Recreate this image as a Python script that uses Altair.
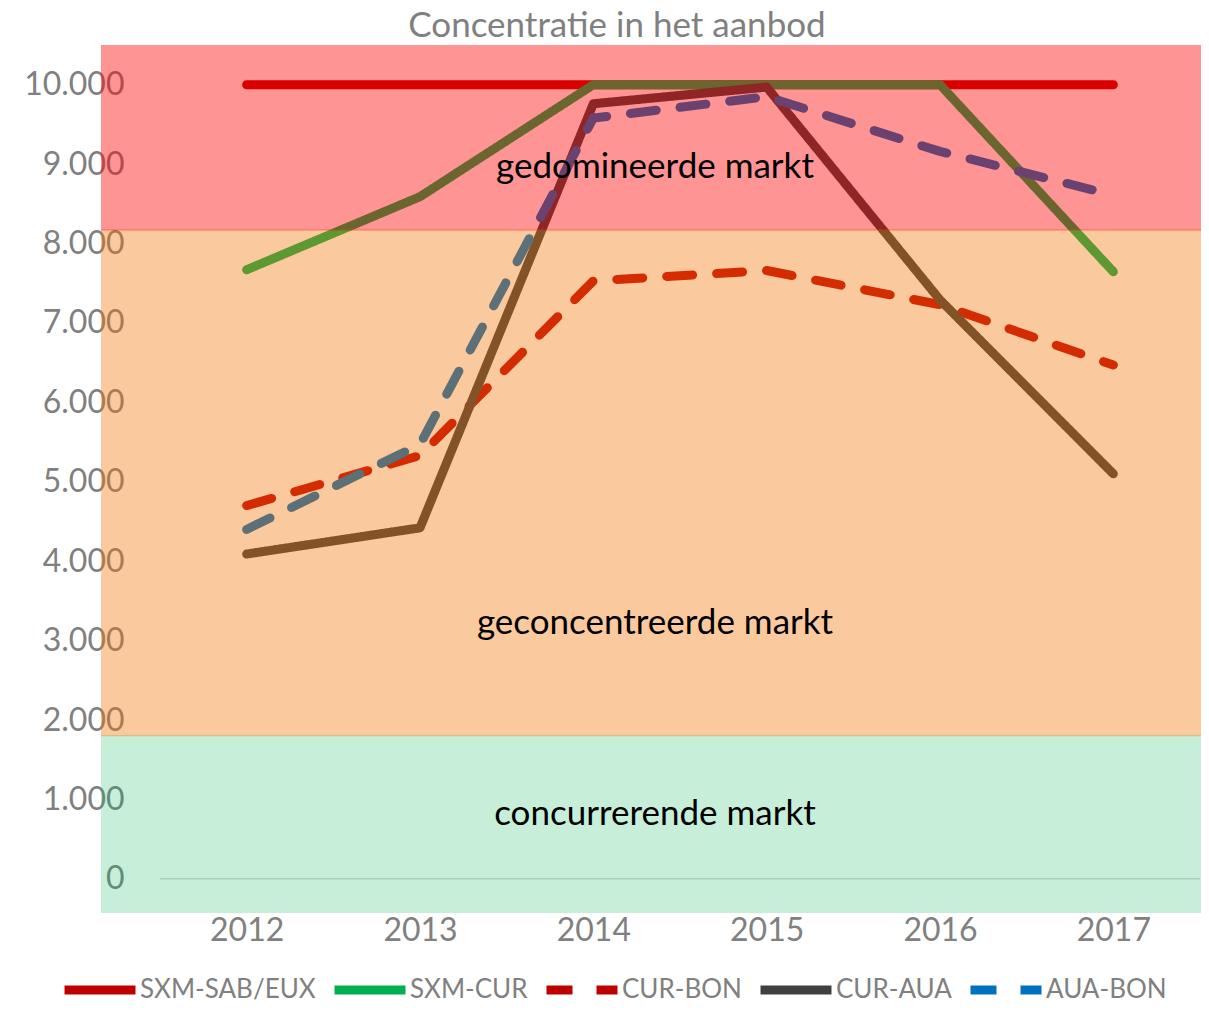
import altair as alt
import pandas as pd

# ---- data -------------------------------------------------------------
years = ["2012", "2013", "2014", "2015", "2016", "2017"]
series_names = ["SXM-SAB/EUX", "SXM-CUR", "CUR-BON", "CUR-AUA", "AUA-BON"]
sxm_sab_eux = [10000, 10000, 10000, 10000, 10000, 10000]
sxm_cur = [7670, 8590, 10000, 10000, 10000, 7645]
cur_bon = [4700, 5330, 7530, 7660, 7230, 6470]
cur_aua = [4090, 4420, 9760, 9970, 7290, 5100]
aua_bon = [4400, 5470, 9580, 9850, 9160, 8610]
series_values = [sxm_sab_eux, sxm_cur, cur_bon, cur_aua, aua_bon]

series_colors = ["#C00000", "#00B050", "#C00000", "#404040", "#0070C0"]
series_dashes = [[1, 0], [1, 0], [26, 24], [1, 0], [26, 24]]

zone_names = ["concurrerende markt", "geconcentreerde markt", "gedomineerde markt"]
zone_low = [-430, 1795, 8165]
zone_high = [1810, 8180, 10500]
zone_label_y = [820, 3225, 8970]
zone_colors = ["#00B050", "#F57100", "#FF0000"]
zone_opacity = [0.22, 0.38, 0.42]

y_ticks = [0, 1000, 2000, 3000, 4000, 5000, 6000, 7000, 8000, 9000, 10000]

# ---- layout -----------------------------------------------------------
W, H = 1040, 868
FONT = "Lato"
GREY = "#808080"

y_scale = alt.Scale(domain=[-430, 10500], nice=False, zero=False)
x_enc = alt.X(
    "year:O",
    sort=years,
    scale=alt.Scale(domain=years, paddingOuter=0.5),
    axis=alt.Axis(title=None, labelAngle=0, domain=False, ticks=False,
                  grid=False, labelPadding=2),
)
y_axis = alt.Axis(
    title=None, values=y_ticks, domain=False, ticks=False, grid=False,
    labelPadding=36,
    labelExpr="replace(format(datum.value, ','), ',', '.')",
)

color_scale = alt.Scale(domain=series_names, range=series_colors)
dash_scale = alt.Scale(domain=series_names, range=series_dashes)

layers = []

# zero line (horizontal axis line)
zero = alt.Chart(pd.DataFrame({"v": [0]})).mark_rule(
    color="#D9D9D9", strokeWidth=1.5
).encode(
    y=alt.Y("v:Q", scale=y_scale, axis=y_axis),
    x=alt.value(0),
    x2=alt.value(W),
)
layers.append(zero)

# series lines, drawn in series order
for name, vals in zip(series_names, series_values):
    df = pd.DataFrame({"year": years, "value": vals, "series": name})
    ln = alt.Chart(df).mark_line(
        strokeWidth=9, strokeCap="round", strokeJoin="round"
    ).encode(
        x=x_enc,
        y=alt.Y("value:Q", scale=y_scale, axis=y_axis),
        color=alt.Color("series:N", scale=color_scale,
                        legend=alt.Legend(title=None)),
        strokeDash=alt.StrokeDash("series:N", scale=dash_scale,
                                  legend=alt.Legend(title=None)),
    )
    layers.append(ln)

# translucent market zones on top
for i in range(len(zone_names)):
    zdf = pd.DataFrame({"low": [zone_low[i]], "high": [zone_high[i]]})
    rect = alt.Chart(zdf).mark_rect(
        color=zone_colors[i], opacity=zone_opacity[i]
    ).encode(
        y=alt.Y("low:Q", scale=y_scale, axis=y_axis),
        y2="high:Q",
        x=alt.value(-59),
        x2=alt.value(W + 9),
    )
    layers.append(rect)

# zone labels
tdf = pd.DataFrame({"label": zone_names, "ypos": zone_label_y})
txt = alt.Chart(tdf).mark_text(
    font=FONT, fontSize=35, color="black", align="center", baseline="middle"
).encode(
    y=alt.Y("ypos:Q", scale=y_scale, axis=y_axis),
    x=alt.value(495),
    text="label:N",
)
layers.append(txt)

chart = alt.layer(*layers).properties(
    width=W,
    height=H,
    title=alt.TitleParams(
        "Concentratie in het aanbod", font=FONT, fontSize=35,
        fontWeight="normal", color=GREY, anchor="middle", dx=-63, offset=1,
    ),
    autosize=alt.AutoSizeParams(type="none"),
    padding={"left": 152, "top": 37, "right": 1, "bottom": 90},
).configure_view(stroke=None).configure_axis(
    labelFont=FONT, labelFontSize=32, labelColor=GREY
).configure_legend(
    orient="none", legendX=-100, legendY=905, direction="horizontal",
    columns=5, columnPadding=0, symbolType="stroke", symbolSize=5041,
    symbolStrokeWidth=9, labelFont=FONT, labelFontSize=26,
    labelColor=GREY, labelOffset=0, labelLimit=400,
)

chart.save("out.html", embed_options={"renderer": "svg", "actions": False})
